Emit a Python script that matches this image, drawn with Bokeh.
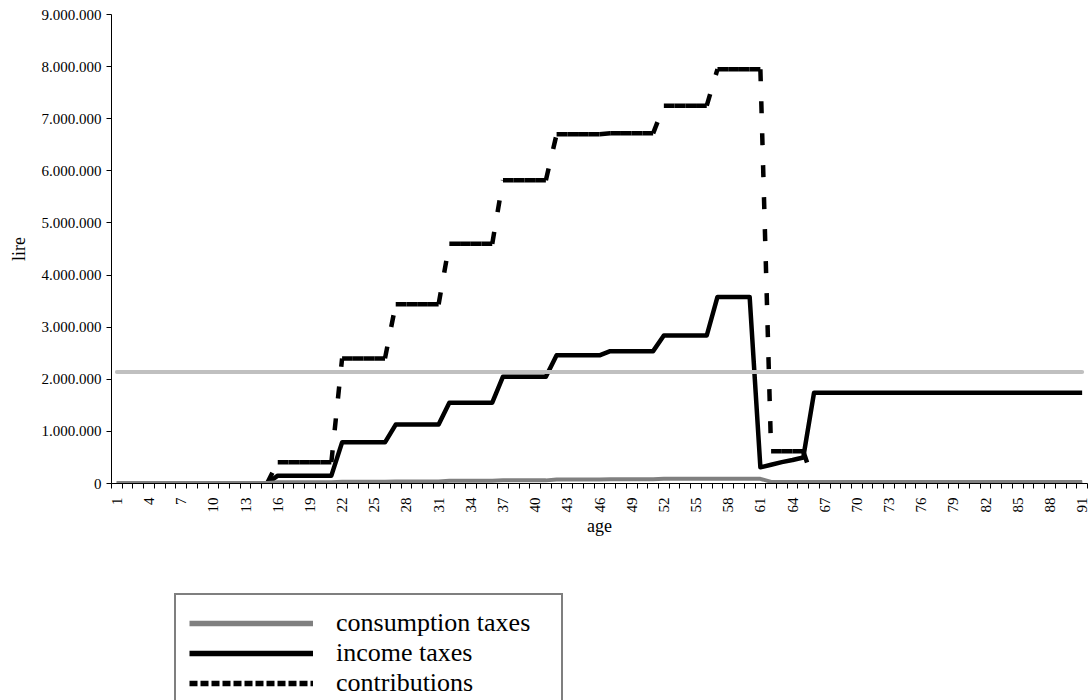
import math
from bokeh.plotting import figure
from bokeh.layouts import column
from bokeh.models import (FixedTicker, Legend, LegendItem, ColumnDataSource, Range1d)
from bokeh.embed import file_html
from bokeh.resources import INLINE

# ---------------- data ----------------
ages = list(range(1, 92))

consumption_taxes = [
    10000, 10000, 10000, 10000, 10000, 10000, 10000, 10000, 10000, 10000,
    10000, 10000, 10000, 10000, 10000, 25000, 25000, 25000, 25000, 25000,
    25000, 35000, 35000, 35000, 35000, 35000, 40000, 40000, 40000, 40000,
    40000, 55000, 55000, 55000, 55000, 55000, 60000, 60000, 60000, 60000,
    60000, 75000, 75000, 75000, 75000, 75000, 80000, 80000, 80000, 80000,
    80000, 90000, 90000, 90000, 90000, 90000, 90000, 90000, 90000, 90000,
    90000, 30000, 30000, 30000, 30000, 30000, 30000, 30000, 30000, 30000,
    30000, 30000, 30000, 30000, 30000, 30000, 30000, 30000, 30000, 30000,
    30000, 30000, 30000, 30000, 30000, 30000, 30000, 30000, 30000, 30000,
    30000,
]

income_taxes = [
    0, 0, 0, 0, 0, 0, 0, 0, 0, 0,
    0, 0, 0, 0, 0, 150000, 150000, 150000, 150000, 150000,
    150000, 790000, 790000, 790000, 790000, 790000, 1130000, 1130000, 1130000, 1130000,
    1130000, 1550000, 1550000, 1550000, 1550000, 1550000, 2050000, 2050000, 2050000, 2050000,
    2050000, 2460000, 2460000, 2460000, 2460000, 2460000, 2540000, 2540000, 2540000, 2540000,
    2540000, 2840000, 2840000, 2840000, 2840000, 2840000, 3580000, 3580000, 3580000, 3580000,
    310000, 360000, 410000, 450000, 500000, 1740000, 1740000, 1740000, 1740000, 1740000,
    1740000, 1740000, 1740000, 1740000, 1740000, 1740000, 1740000, 1740000, 1740000, 1740000,
    1740000, 1740000, 1740000, 1740000, 1740000, 1740000, 1740000, 1740000, 1740000, 1740000,
    1740000,
]

contributions = [
    0, 0, 0, 0, 0, 0, 0, 0, 0, 0,
    0, 0, 0, 0, 0, 410000, 410000, 410000, 410000, 410000,
    410000, 2400000, 2400000, 2400000, 2400000, 2400000, 3440000, 3440000, 3440000, 3440000,
    3440000, 4600000, 4600000, 4600000, 4600000, 4600000, 5820000, 5820000, 5820000, 5820000,
    5820000, 6700000, 6700000, 6700000, 6700000, 6700000, 6720000, 6720000, 6720000, 6720000,
    6720000, 7250000, 7250000, 7250000, 7250000, 7250000, 7950000, 7950000, 7950000, 7950000,
    7950000, 620000, 620000, 620000, 620000, 0, 0, 0, 0, 0,
    0, 0, 0, 0, 0, 0, 0, 0, 0, 0,
    0, 0, 0, 0, 0, 0, 0, 0, 0, 0,
    0,
]

reference_level = 2140000

y_ticks = [0, 1000000, 2000000, 3000000, 4000000, 5000000, 6000000, 7000000, 8000000, 9000000]
y_tick_labels = ["0", "1.000.000", "2.000.000", "3.000.000", "4.000.000", "5.000.000",
                 "6.000.000", "7.000.000", "8.000.000", "9.000.000"]

series_labels = ["consumption taxes", "income taxes", "contributions"]

FONT = "Liberation Serif"
BORDER_L, BORDER_R = 111, 4

# ---------------- main chart ----------------
p = figure(width=1091, height=560,
           x_range=Range1d(0.5, len(ages) + 0.5), y_range=Range1d(0, 9000000),
           output_backend="svg", toolbar_location=None,
           min_border_left=BORDER_L, min_border_right=BORDER_R,
           min_border_top=14, min_border_bottom=77)
p.outline_line_color = None
p.xgrid.grid_line_color = None
p.ygrid.grid_line_color = None
p.background_fill_color = "white"
p.border_fill_color = "white"

# contributions: dashed, pattern restarting at each data segment
seg_xs = [[ages[i], ages[i + 1]] for i in range(len(ages) - 1)]
seg_ys = [[contributions[i], contributions[i + 1]] for i in range(len(ages) - 1)]
p.multi_line(xs=seg_xs, ys=seg_ys, line_color="black", line_width=4.5,
             line_dash="12 20", line_cap="butt")

# income taxes
p.line(ages, income_taxes, line_color="black", line_width=4.5, line_join="round")

# consumption taxes
p.line(ages, consumption_taxes, line_color="#808080", line_width=4, line_join="round")

# horizontal reference level
p.line([ages[0], ages[-1]], [reference_level, reference_level],
       line_color="#C0C0C0", line_width=4, line_cap="round")

# x axis
xa = p.xaxis[0]
xa.ticker = FixedTicker(ticks=ages[::3],
                        minor_ticks=[a - 0.5 for a in ages] + [ages[-1] + 0.5])
xa.major_tick_out = 0
xa.major_tick_in = 0
xa.minor_tick_out = 5
xa.minor_tick_in = 0
xa.minor_tick_line_color = "black"
xa.axis_line_color = "black"
xa.major_label_orientation = math.pi / 2
xa.major_label_standoff = 9
xa.major_label_text_font = FONT
xa.major_label_text_font_size = "15px"
xa.major_label_text_color = "black"
xa.axis_label = "age"
xa.axis_label_text_font = FONT
xa.axis_label_text_font_size = "18px"
xa.axis_label_text_font_style = "normal"
xa.axis_label_text_color = "black"
xa.axis_label_standoff = 0

# y axis
ya = p.yaxis[0]
ya.ticker = FixedTicker(ticks=y_ticks, minor_ticks=[])
ya.major_label_overrides = {t: lab for t, lab in zip(y_ticks, y_tick_labels)}
ya.major_tick_out = 5
ya.major_tick_in = 0
ya.minor_tick_out = 0
ya.minor_tick_in = 0
ya.axis_line_color = "black"
ya.major_tick_line_color = "black"
ya.major_label_standoff = 5
ya.major_label_text_font = FONT
ya.major_label_text_font_size = "15px"
ya.major_label_text_color = "black"
ya.axis_label = "lire"
ya.axis_label_text_font = FONT
ya.axis_label_text_font_size = "18px"
ya.axis_label_text_font_style = "normal"
ya.axis_label_text_color = "black"
ya.axis_label_standoff = 10

# ---------------- legend panel (same side borders as the chart) ----------------
lp = figure(width=1091, height=140, x_axis_type=None, y_axis_type=None,
            x_range=Range1d(0, 1), y_range=Range1d(0, 1),
            output_backend="svg", toolbar_location=None,
            min_border_left=BORDER_L, min_border_right=BORDER_R,
            min_border_top=0, min_border_bottom=0)
lp.xgrid.grid_line_color = None
lp.ygrid.grid_line_color = None
lp.outline_line_color = None
lp.background_fill_color = "white"
lp.border_fill_color = "white"

hidden = ColumnDataSource(data=dict(x=ages, y=[math.nan for _ in ages]))
lg_cons = lp.line("x", "y", source=hidden, line_color="#808080", line_width=5.5)
lg_inc = lp.line("x", "y", source=hidden, line_color="black", line_width=5.5)
lg_con = lp.line("x", "y", source=hidden, line_color="black", line_width=5.5, line_dash="8 3")

legend = Legend(items=[LegendItem(label=series_labels[0], renderers=[lg_cons]),
                       LegendItem(label=series_labels[1], renderers=[lg_inc]),
                       LegendItem(label=series_labels[2], renderers=[lg_con])],
                location=(63, -13))
legend.label_text_font = FONT
legend.label_text_font_size = "26px"
legend.label_text_color = "black"
legend.glyph_width = 124
legend.glyph_height = 30
legend.label_height = 30
legend.label_width = 212
legend.label_standoff = 23
legend.spacing = 0
legend.padding = 13
legend.margin = 0
legend.border_line_color = "black"
legend.border_line_width = 2
legend.background_fill_color = "white"
legend.background_fill_alpha = 1.0
lp.add_layout(legend)

layout = column(p, lp, spacing=0)
open("out.html", "w").write(file_html(layout, INLINE))
